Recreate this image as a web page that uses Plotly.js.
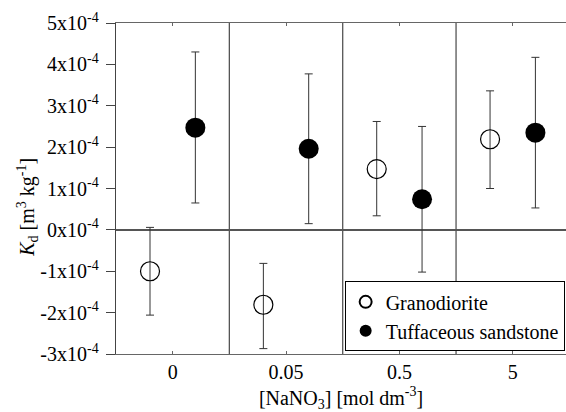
<!DOCTYPE html>
<html>
<head>
<meta charset="utf-8">
<script src="https://cdn.plot.ly/plotly-3.0.1.min.js"></script>
<style>html,body{margin:0;padding:0;overflow:hidden;background:#fff}</style>
</head>
<body>
<div id="chart" style="width:566px;height:412px"></div>
<script>
// Categories ([NaNO3] in mol dm^-3)
const categories = ["0", "0.05", "0.5", "5"];

// Kd values (m^3 kg^-1)
const granoValues   = [-1.00e-4, -1.81e-4, 1.47e-4, 2.19e-4];
const granoErrPlus  = [1.06e-4, 1.00e-4, 1.15e-4, 1.17e-4];
const granoErrMinus = [1.06e-4, 1.06e-4, 1.13e-4, 1.19e-4];

const tuffValues    = [2.47e-4, 1.96e-4, 0.74e-4, 2.35e-4];
const tuffErrPlus   = [1.83e-4, 1.81e-4, 1.76e-4, 1.82e-4];
const tuffErrMinus  = [1.82e-4, 1.81e-4, 1.76e-4, 1.82e-4];

// Y tick values and labels
const yTickValues = [-3e-4, -2e-4, -1e-4, 0, 1e-4, 2e-4, 3e-4, 4e-4, 5e-4];
const yTickLabels = ["-3x10<sup>-4</sup>", "-2x10<sup>-4</sup>", "-1x10<sup>-4</sup>", "0x10<sup>-4</sup>",
                     "1x10<sup>-4</sup>", "2x10<sup>-4</sup>", "3x10<sup>-4</sup>", "4x10<sup>-4</sup>", "5x10<sup>-4</sup>"];

const FONT = 'Liberation Serif';
const idx = categories.map((c, i) => i);
const offset = 0.2;

const errStyle = {color: '#333', thickness: 1, width: 4};

const traces = [
  {
    type: 'scatter', mode: 'markers', name: 'Granodiorite',
    x: idx.map(i => i - offset), y: granoValues,
    error_y: Object.assign({type: 'data', symmetric: false, array: granoErrPlus, arrayminus: granoErrMinus}, errStyle),
    marker: {symbol: 'circle-open', size: 19, color: '#000', line: {width: 1.2, color: '#000'}}
  },
  {
    type: 'scatter', mode: 'markers', name: 'Tuffaceous sandstone',
    x: idx.map(i => i + offset), y: tuffValues,
    error_y: Object.assign({type: 'data', symmetric: false, array: tuffErrPlus, arrayminus: tuffErrMinus}, errStyle),
    marker: {symbol: 'circle', size: 20, color: '#000', line: {width: 0}}
  }
];

// category divider lines
const shapes = idx.slice(1).map(i => ({
  type: 'line', xref: 'x', yref: 'paper', x0: i - 0.5, x1: i - 0.5, y0: 0, y1: 1,
  line: {color: '#555', width: 1.3}
}));

const layout = {
  width: 566, height: 412,
  margin: {l: 116, r: 0, t: 23, b: 58},
  paper_bgcolor: '#fff', plot_bgcolor: '#fff',
  font: {family: FONT, size: 20, color: '#000'},
  showlegend: true,
  legend: {
    x: 0.997, xanchor: 'right', y: 0.008, yanchor: 'bottom',
    bgcolor: '#fff', bordercolor: '#000', borderwidth: 1,
    font: {family: FONT, size: 20, color: '#000'},
    itemsizing: 'constant', tracegroupgap: 0, itemwidth: 30
  },
  xaxis: {
    range: [-0.5, 3.47], tickvals: idx, ticktext: categories,
    showgrid: false, zeroline: false,
    showline: true, linecolor: '#666', linewidth: 1.3, mirror: 'ticks',
    ticks: 'inside', ticklen: 3, tickcolor: '#666',
    tickfont: {family: FONT, size: 20},
    title: {text: '[NaNO<sub>3</sub>] [mol dm<sup>-3</sup>]', font: {family: FONT, size: 20}, standoff: 15}
  },
  yaxis: {
    range: [-3e-4, 5e-4], tickvals: yTickValues, ticktext: yTickLabels,
    showgrid: false, zeroline: true, zerolinecolor: '#555', zerolinewidth: 1.3,
    showline: true, linecolor: '#444', linewidth: 1.3,
    ticks: 'outside', ticklen: 9, tickcolor: '#444', ticklabelstandoff: 3,
    tickfont: {family: FONT, size: 20}
  },
  annotations: [{
    text: '<i>K</i><sub>d</sub> [m<sup>3</sup> kg<sup>-1</sup>]',
    xref: 'paper', yref: 'paper', x: -0.196, y: 0.444,
    xanchor: 'center', yanchor: 'middle', textangle: -90, showarrow: false,
    font: {family: FONT, size: 20, color: '#000'}
  }],
  shapes: shapes
};

Plotly.newPlot('chart', traces, layout, {displayModeBar: false, staticPlot: true});
</script>
</body>
</html>
